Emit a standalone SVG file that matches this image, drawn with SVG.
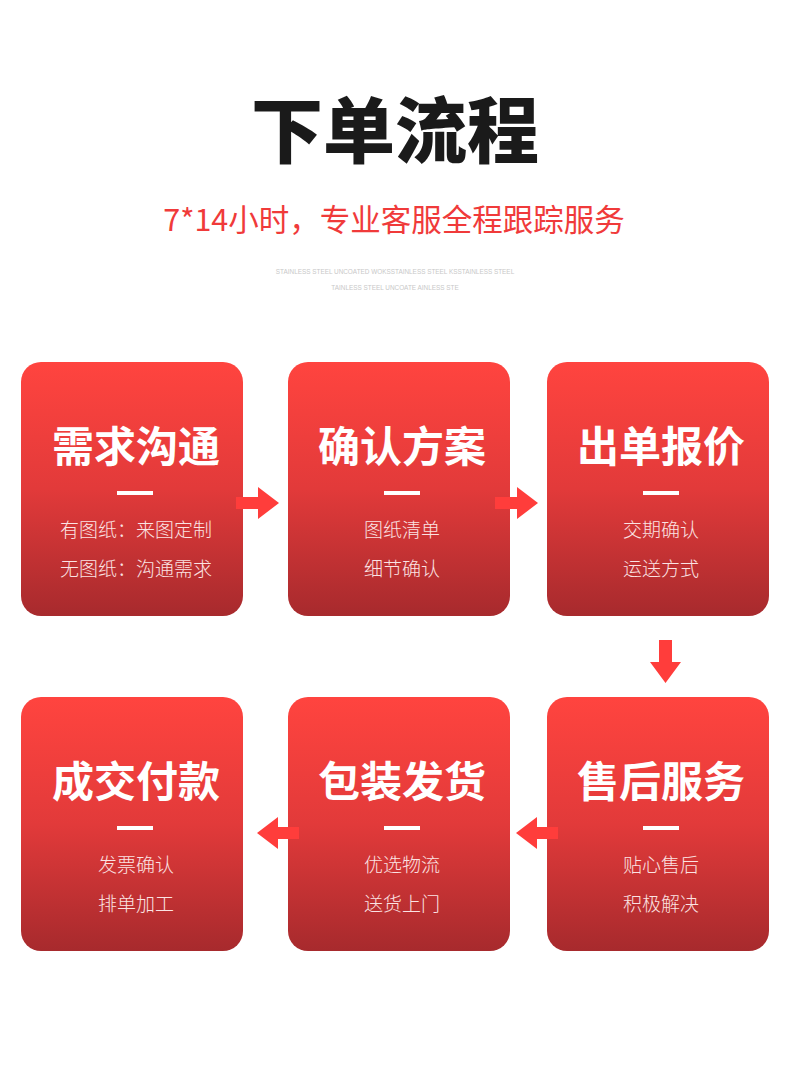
<svg xmlns="http://www.w3.org/2000/svg" width="790" height="1071" viewBox="0 0 790 1071">
<defs>
<linearGradient id="g" x1="0" y1="0" x2="0" y2="1">
<stop offset="0" stop-color="#ff443f"/>
<stop offset="0.5" stop-color="#e23a3a"/>
<stop offset="1" stop-color="#a72a2d"/>
</linearGradient>
<style>
.card{fill:url(#g)}
.t{font-family:"Noto Sans CJK SC","Noto Sans",sans-serif;font-weight:700;font-size:42px;fill:#fff;text-anchor:middle}
.s{font-family:"Noto Sans CJK SC","Noto Sans",sans-serif;font-weight:300;font-size:19px;fill:#fbe3e3;text-anchor:middle}
.bar{fill:#fff}
.arr{fill:#ff3d3b}
</style>
</defs>
<rect width="790" height="1071" fill="#fff"/>
<text x="395" y="157" font-family="'Noto Sans CJK SC',sans-serif" font-weight="900" font-size="72" fill="#1a1a1a" text-anchor="middle">下单流程</text>
<text x="394" y="231" font-family="'Noto Sans CJK SC',sans-serif" font-weight="400" font-size="30.5" fill="#f03a3a" text-anchor="middle">7*14小时，专业客服全程跟踪服务</text>
<text x="395" y="274" font-family="'Liberation Sans',sans-serif" font-size="6.4" fill="#c8c8c8" text-anchor="middle">STAINLESS STEEL UNCOATED WOKSSTAINLESS STEEL KSSTAINLESS STEEL</text>
<text x="395" y="290" font-family="'Liberation Sans',sans-serif" font-size="6.4" fill="#c8c8c8" text-anchor="middle">TAINLESS STEEL UNCOATE AINLESS STE</text>

<g id="n1"><rect class="card" x="21" y="362" width="222" height="254" rx="20"/><text class="t" x="136" y="462">需求沟通</text><rect class="bar" x="117" y="491" width="36" height="4"/><text class="s" x="136" y="537">有图纸：来图定制</text><text class="s" x="136" y="576">无图纸：沟通需求</text></g>
<g id="n2"><rect class="card" x="288" y="362" width="222" height="254" rx="20"/><text class="t" x="402" y="462">确认方案</text><rect class="bar" x="384" y="491" width="36" height="4"/><text class="s" x="402" y="537">图纸清单</text><text class="s" x="402" y="576">细节确认</text></g>
<g id="n3"><rect class="card" x="547" y="362" width="222" height="254" rx="20"/><text class="t" x="661" y="462">出单报价</text><rect class="bar" x="643" y="491" width="36" height="4"/><text class="s" x="661" y="537">交期确认</text><text class="s" x="661" y="576">运送方式</text></g>
<g id="n4"><rect class="card" x="547" y="697" width="222" height="254" rx="20"/><text class="t" x="661" y="797">售后服务</text><rect class="bar" x="643" y="826" width="36" height="4"/><text class="s" x="661" y="872">贴心售后</text><text class="s" x="661" y="911">积极解决</text></g>
<g id="n5"><rect class="card" x="288" y="697" width="222" height="254" rx="20"/><text class="t" x="402" y="797">包装发货</text><rect class="bar" x="384" y="826" width="36" height="4"/><text class="s" x="402" y="872">优选物流</text><text class="s" x="402" y="911">送货上门</text></g>
<g id="n6"><rect class="card" x="21" y="697" width="222" height="254" rx="20"/><text class="t" x="136" y="797">成交付款</text><rect class="bar" x="117" y="826" width="36" height="4"/><text class="s" x="136" y="872">发票确认</text><text class="s" x="136" y="911">排单加工</text></g>

<g id="connectors">
<polygon class="arr" points="236,497 258,497 258,487 279,503 258,519 258,509 236,509"/>
<polygon class="arr" points="495,497 517,497 517,487 538,503 517,519 517,509 495,509"/>
<polygon class="arr" points="659,640 672,640 672,662 681,662 665.5,683 650,662 659,662"/>
<polygon class="arr" points="558,827 537,827 537,817 516,833 537,849 537,839 558,839"/>
<polygon class="arr" points="299,827 278,827 278,817 257,833 278,849 278,839 299,839"/>
</g>
</svg>
